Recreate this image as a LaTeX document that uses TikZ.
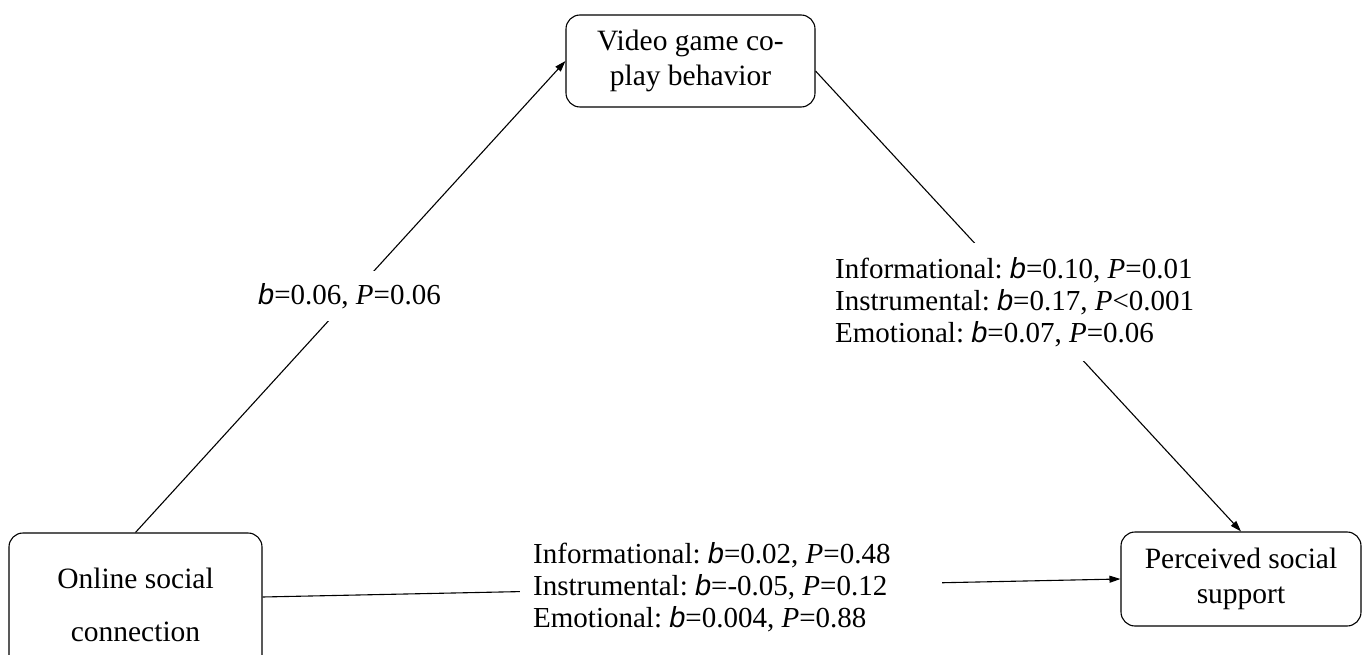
\documentclass[tikz,border=0pt]{standalone}
\usepackage{fontspec}
\setmainfont{Liberation Serif}
\newfontfamily\bsans{Liberation Sans}
\usetikzlibrary{arrows.meta}
\newcommand{\bvar}{{\bsans\itshape b}}
\newcommand{\pvar}{\textit{P}}
\newcommand{\boxfont}{\fontsize{29.5}{35}\selectfont}
\newcommand{\labfont}{\fontsize{29}{32}\selectfont\frenchspacing}
\tikzset{
  box/.style={draw, rounded corners=14pt, line width=1.1pt, align=center, font=\boxfont, inner sep=0pt},
  lab/.style={fill=white, align=left, inner xsep=13pt, inner ysep=14pt, font=\labfont},
  conn/.style={line width=1.1pt, -{Triangle[length=11pt,width=7pt]}},
}
\begin{document}
\begin{tikzpicture}[x=1pt,y=-1pt]
\useasboundingbox (0,0) rectangle (1363,655);
\fill[white] (0,0) rectangle (1363,655);
\node[box, minimum width=249pt, minimum height=92pt] (vg) at (690.5,61) {Video game co-\\play behavior};
\node[box, minimum width=253pt, minimum height=144pt] (osc) at (135.5,605) {Online social\\[18pt]connection};
\node[box, minimum width=240pt, minimum height=94pt] (pss) at (1241,579) {Perceived social\\support};
\draw[conn] (osc.north) -- (vg.west);
\draw[conn] ([yshift=-10pt]vg.east) -- (pss.north);
\draw[conn] ([yshift=8pt]osc.east) -- (pss.west);
\node[lab, anchor=west, inner ysep=12pt] (l1) at (245,296) {\bvar=0.06, \pvar=0.06};
\node[lab, anchor=west] (l2) at (822,302) {Informational: \bvar=0.10, \pvar=0.01\\Instrumental: \bvar=0.17, \pvar<0.001\\Emotional: \bvar=0.07, \pvar=0.06};
\node[lab, anchor=west] (l3) at (520,587) {Informational: \bvar=0.02, \pvar=0.48\hspace*{38pt}\\Instrumental: \bvar=-0.05, \pvar=0.12\\Emotional: \bvar=0.004, \pvar=0.88};
\end{tikzpicture}
\end{document}
